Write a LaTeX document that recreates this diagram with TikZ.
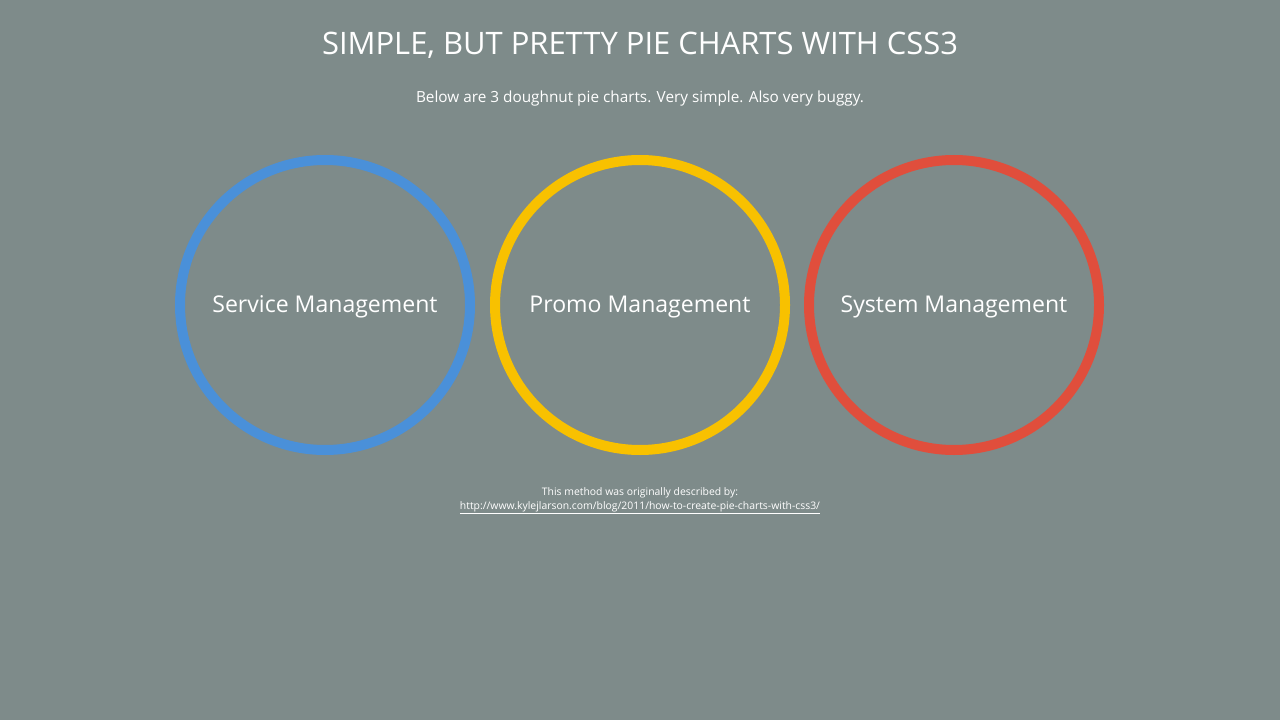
\documentclass[tikz,border=0pt]{standalone}
\usepackage{fontspec}
\setmainfont{Open Sans}
\definecolor{bg}{HTML}{7E8B8A}
\definecolor{cblue}{HTML}{4A90D9}
\definecolor{cyellow}{HTML}{F8C100}
\definecolor{cred}{HTML}{E04E3C}
\begin{document}
\begin{tikzpicture}[x=0.75pt,y=-0.75pt,
  ring/.style={line width=7.5pt},
  lbl/.style={text=white,font=\fontsize{17.3}{20}\selectfont}]
\fill[bg] (0,0) rectangle (1280,720);
\useasboundingbox (0,0) rectangle (1280,720);
\node[text=white,font=\fontsize{23.2}{28}\selectfont] (title) at (640,45) {SIMPLE, BUT PRETTY PIE CHARTS WITH CSS3};
\node[text=white,font=\fontsize{11.5}{14}\selectfont] (sub) at (640,99) {Below are 3 doughnut pie charts. Very simple. Also very buggy.};
\draw[ring,cblue] (325,305) circle (145);
\draw[ring,cyellow] (640,305) circle (145);
\draw[ring,cred] (954,305) circle (145);
\node[lbl] (a) at (325,307) {Service Management};
\node[lbl] (b) at (640,307) {Promo Management};
\node[lbl] (c) at (954,307) {System Management};
\node[text=white,font=\fontsize{7.8}{10.5}\selectfont,align=center] (foot) at (640,501) {This method was originally described by:\\\underline{http://www.kylejlarson.com/blog/2011/how-to-create-pie-charts-with-css3/}};
\end{tikzpicture}
\end{document}
